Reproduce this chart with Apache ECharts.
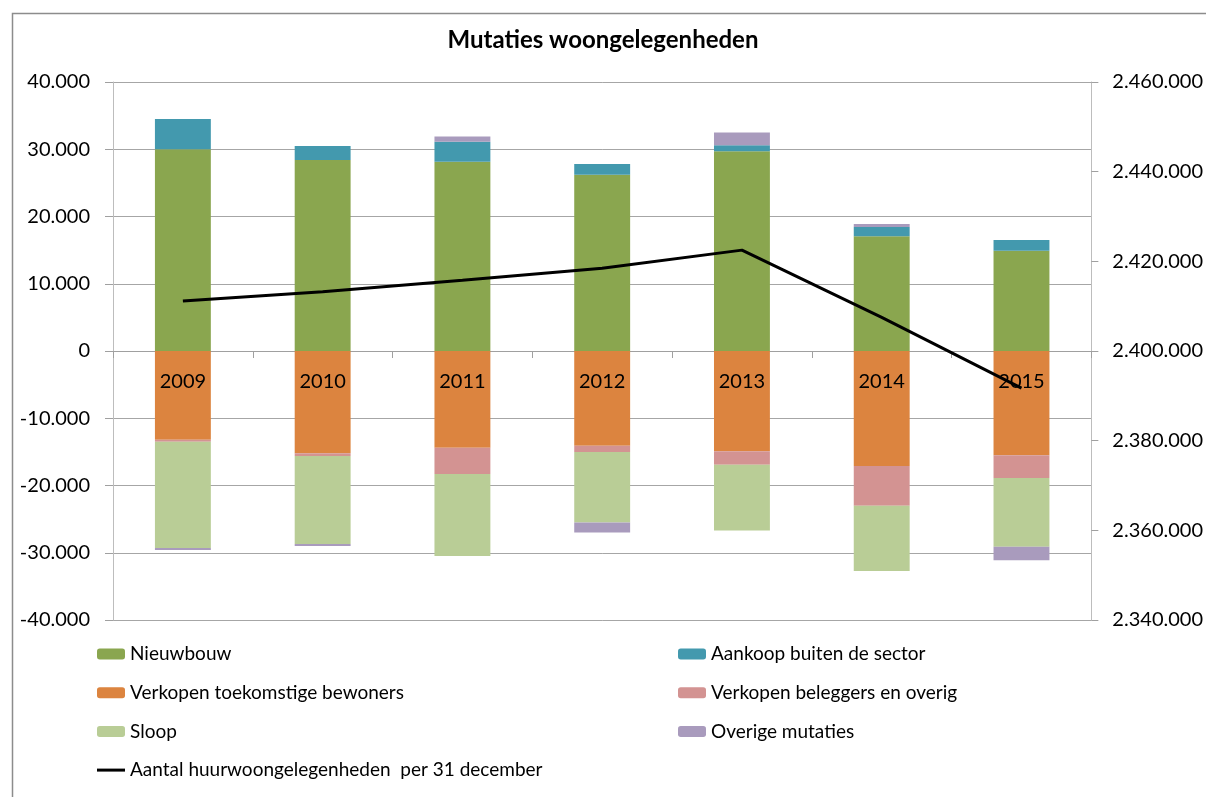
<!DOCTYPE html>
<html>
<head>
<meta charset="utf-8">
<script src="https://cdn.jsdelivr.net/npm/echarts@6/dist/echarts.min.js"></script>
<style>
html,body{margin:0;padding:0;background:#fff;}
#chart{width:1206px;height:797px;}
</style>
</head>
<body>
<div id="chart"></div>
<script>
const years = ['2009','2010','2011','2012','2013','2014','2015'];
const nieuwbouw = [30000, 28400, 28150, 26200, 29700, 17050, 14900];
const aankoop = [4500, 2100, 2950, 1600, 900, 1400, 1600];
const verkopenToekomstig = [-13200, -15200, -14400, -14100, -14900, -17100, -15500];
const verkopenBeleggers = [-300, -400, -3900, -900, -2000, -5900, -3400];
const sloop = [-15800, -13100, -12200, -10500, -9800, -9700, -10200];
const overige = [-300, -300, 800, -1500, 1900, 450, -2000];
const huurwoningen = [2411150, 2413200, 2415800, 2418450, 2422500, 2407500, 2391700];

const FONT = 'Lato';
const LINE_NAME = 'Aantal huurwoongelegenheden  per 31 december';
function fmt(v){
  const neg = v < 0;
  let s = Math.abs(Math.round(v)).toString().replace(/\B(?=(\d{3})+(?!\d))/g, '.');
  return (neg ? '-' : '') + s;
}

const chart = echarts.init(document.getElementById('chart'), null, {renderer:'canvas'});
const barBase = {type:'bar', stack:'m', barWidth:'40%', yAxisIndex:0, xAxisIndex:0};
chart.setOption({
  animation:false,
  backgroundColor:'#fff',
  textStyle:{fontFamily:FONT},
  title:{
    text:'Mutaties woongelegenheden',
    left:'center', top:28, padding:[0,0,0,20],
    textStyle:{fontFamily:FONT, fontWeight:'bold', fontSize:24, color:'#000'}
  },
  graphic:[{type:'rect', left:10, top:11, shape:{width:1300, height:900}, style:{fill:'none', stroke:'#8c8c8c', lineWidth:1.5}, silent:true, z:-1}],
  grid:{left:113, right:114, top:82, bottom:177},
  legend:[
    {orient:'vertical', left:92, top:639, itemWidth:28, itemHeight:11, itemGap:18.7,
     textStyle:{fontFamily:FONT, fontSize:19, color:'#000', lineHeight:20},
     data:['Nieuwbouw','Verkopen toekomstige bewoners','Sloop',
           {name:LINE_NAME, icon:'path://M0,0 H28 V3 H0 Z'}]},
    {orient:'vertical', left:673, top:639, itemWidth:28, itemHeight:11, itemGap:18.7,
     textStyle:{fontFamily:FONT, fontSize:19, color:'#000', lineHeight:20},
     data:['Aankoop buiten de sector','Verkopen beleggers en overig','Overige mutaties']}
  ],
  xAxis:[
    {type:'category', data:years, position:'bottom', offset:-269,
     axisLine:{onZero:false, lineStyle:{color:'#a0a0a0', width:1}},
     axisTick:{show:true, length:7, lineStyle:{color:'#a0a0a0'}},
     axisLabel:{show:false}},
    {type:'category', data:years, position:'bottom', offset:-269, z:10,
     axisLine:{show:false, onZero:false},
     axisTick:{show:false},
     axisLabel:{fontFamily:FONT, fontSize:20, color:'#000', margin:21}}
  ],
  yAxis:[
    {type:'value', min:-40000, max:40000, interval:10000,
     axisLine:{show:true, lineStyle:{color:'#bdbdbd'}},
     axisTick:{show:true, length:8, lineStyle:{color:'#a0a0a0'}},
     splitLine:{show:true, lineStyle:{color:'#a6a6a6', width:1}},
     axisLabel:{fontFamily:FONT, fontSize:20, color:'#000', margin:23, formatter:fmt}},
    {type:'value', min:2340000, max:2460000, interval:20000, position:'right',
     axisLine:{show:true, lineStyle:{color:'#bdbdbd'}},
     axisTick:{show:true, length:7, lineStyle:{color:'#a0a0a0'}},
     splitLine:{show:false},
     axisLabel:{fontFamily:FONT, fontSize:20, color:'#000', margin:21, formatter:fmt}}
  ],
  series:[
    Object.assign({name:'Nieuwbouw', data:nieuwbouw, itemStyle:{color:'#8aa64f'}}, barBase),
    Object.assign({name:'Aankoop buiten de sector', data:aankoop, itemStyle:{color:'#4399ae'}}, barBase),
    Object.assign({name:'Verkopen toekomstige bewoners', data:verkopenToekomstig, itemStyle:{color:'#dc843f'}}, barBase),
    Object.assign({name:'Verkopen beleggers en overig', data:verkopenBeleggers, itemStyle:{color:'#d39392'}}, barBase),
    Object.assign({name:'Sloop', data:sloop, itemStyle:{color:'#b9cd96'}}, barBase),
    Object.assign({name:'Overige mutaties', data:overige, itemStyle:{color:'#a99bbd'}}, barBase),
    {name:LINE_NAME, type:'line', xAxisIndex:0, yAxisIndex:1, data:huurwoningen,
     symbol:'none', z:12, lineStyle:{color:'#000', width:3}, itemStyle:{color:'#000'}}
  ]
});
</script>
</body>
</html>
